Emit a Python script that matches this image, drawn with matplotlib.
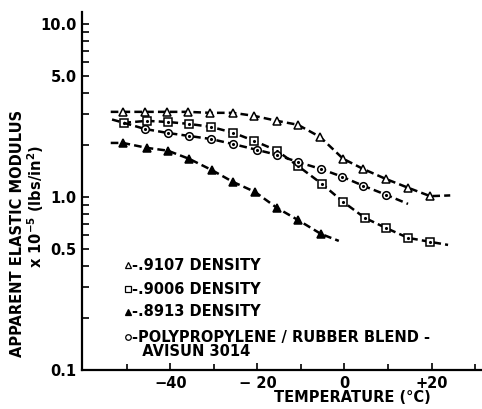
import matplotlib

matplotlib.use("Agg")
import matplotlib.pyplot as plt
from matplotlib.ticker import FixedLocator, NullFormatter

plt.rcParams["font.family"] = "DejaVu Sans"
plt.rcParams["font.weight"] = "bold"
plt.rcParams["lines.scale_dashes"] = False

# curves: first and last points are the dashed-line ends, markers sit in between
t_9107 = [-53.7, -50.9, -45.9, -40.8, -36.0, -30.9, -25.6, -20.8, -15.5, -10.7, -5.6, -0.3, 4.3, 9.5, 14.6, 19.7, 24.3]
e_9107 = [3.10, 3.10, 3.10, 3.10, 3.10, 3.06, 3.06, 2.94, 2.75, 2.61, 2.22, 1.66, 1.45, 1.27, 1.13, 1.01, 1.02]

t_9006 = [-53.4, -50.7, -45.4, -40.6, -35.7, -30.7, -25.6, -20.8, -15.5, -10.7, -5.2, -0.3, 4.7, 9.5, 14.6, 19.7, 23.8]
e_9006 = [2.80, 2.68, 2.75, 2.71, 2.64, 2.54, 2.35, 2.11, 1.85, 1.51, 1.19, 0.936, 0.756, 0.662, 0.580, 0.550, 0.528]

t_blend = [-50.7, -45.9, -40.6, -35.7, -30.7, -25.6, -20.1, -15.5, -10.7, -5.4, -0.6, 4.3, 9.5, 14.6]
e_blend = [2.68, 2.47, 2.34, 2.25, 2.16, 2.02, 1.87, 1.75, 1.59, 1.45, 1.31, 1.16, 1.03, 0.911]

t_8913 = [-53.7, -50.9, -45.4, -40.6, -35.7, -30.5, -25.6, -20.6, -15.5, -10.7, -5.4, -1.3]
e_8913 = [2.05, 2.05, 1.92, 1.85, 1.66, 1.43, 1.22, 1.07, 0.864, 0.736, 0.611, 0.557]

legend_labels = ["-.9107 DENSITY", "-.9006 DENSITY", "-.8913 DENSITY",
                 "-POLYPROPYLENE / RUBBER BLEND -\n  AVISUN 3014"]

x_ticks = [-40, -20, 0, 20]
x_ticklabels = ["\u221240", "\u2212 20", "0", "+20"]
x_minor = [-50, -30, -10, 10, 30]
y_ticks = [0.1, 0.5, 1.0, 5.0, 10.0]
y_ticklabels = ["0.1", "0.5", "1.0", "5.0", "10.0"]
y_minor = [0.2, 0.3, 0.4, 0.6, 0.7, 0.8, 0.9, 2, 3, 4, 6, 7, 8, 9]

fig = plt.figure(figsize=(4.82, 4.09), dpi=100)
ax = fig.add_axes([82 / 482, 39 / 409, 400 / 482, 358 / 409])

line_kw = dict(color="black", lw=1.8, dashes=(5.5, 3), ms=5.5, mec="black", mew=1.1)
ax.plot(t_9107, e_9107, marker="^", mfc="white", markevery=slice(1, -1), **line_kw)
ax.plot(t_9006, e_9006, marker="s", mfc="white", markevery=slice(1, -1), **line_kw)
ax.plot(t_9006[1:-1], e_9006[1:-1], ls="none", marker=".", ms=2.5, color="black")
ax.plot(t_blend, e_blend, marker="o", mfc="white", markevery=slice(1, -1), **line_kw)
ax.plot(t_blend[1:-1], e_blend[1:-1], ls="none", marker=".", ms=2.5, color="black")
ax.plot(t_8913, e_8913, marker="^", mfc="black", markevery=slice(1, -1), **line_kw)

ax.set_yscale("log")
ax.set_xlim(-60.3, 31.6)
ax.set_ylim(0.1, 11.7)

ax.set_xticks(x_ticks, x_ticklabels)
ax.xaxis.set_minor_locator(FixedLocator(x_minor))
ax.yaxis.set_major_locator(FixedLocator(y_ticks))
ax.set_yticklabels(y_ticklabels)
ax.yaxis.set_minor_locator(FixedLocator(y_minor))
ax.yaxis.set_minor_formatter(NullFormatter())

ax.tick_params(which="both", direction="in", width=1.2, labelsize=10.5, color="black")
ax.tick_params(axis="y", which="both", length=5, pad=4)
ax.tick_params(axis="x", which="major", length=5, pad=4)
ax.tick_params(axis="x", which="minor", length=4)
for lab in ax.get_xticklabels() + ax.get_yticklabels():
    lab.set_fontweight("bold")

for side in ("top", "right"):
    ax.spines[side].set_visible(False)
for side in ("left", "bottom"):
    ax.spines[side].set_linewidth(1.6)

# hand-lettered legend in the lower left
leg_markers = [("^", "white"), ("s", "white"), ("^", "black"), ("o", "white")]
leg_y = [265, 289, 312, 337]
for (m, fc), y, text in zip(leg_markers, leg_y, legend_labels):
    fig.lines.append(plt.Line2D([128 / 482], [1 - y / 409], transform=fig.transFigure,
                                marker=m, ms=4, mfc=fc, mec="black", mew=0.9, color="black"))
    fig.text(132 / 482, 1 - y / 409, text, fontsize=10.5, fontweight="bold",
             va="top" if "\n" in text else "center", ha="left", linespacing=0.95)
# nudge the two-line entry so its first line is centred on the marker
fig.texts[-1].set_position((132 / 482, 1 - (337 - 7) / 409))

fig.text(352 / 482, 1 - 398 / 409, "TEMPERATURE (\u00b0C)", fontsize=10.5,
         fontweight="bold", ha="center", va="center")
fig.text(18 / 482, 1 - 233 / 409, "APPARENT ELASTIC MODULUS", fontsize=10.5,
         fontweight="bold", rotation=90, ha="center", va="center")
fig.text(36 / 482, 1 - 206 / 409, r"x 10$^{\mathbf{-5}}$ (lbs/in$^{\mathbf{2}}$)",
         fontsize=10.5, fontweight="bold", rotation=90, ha="center", va="center")

fig.savefig("out.png", dpi=100)
